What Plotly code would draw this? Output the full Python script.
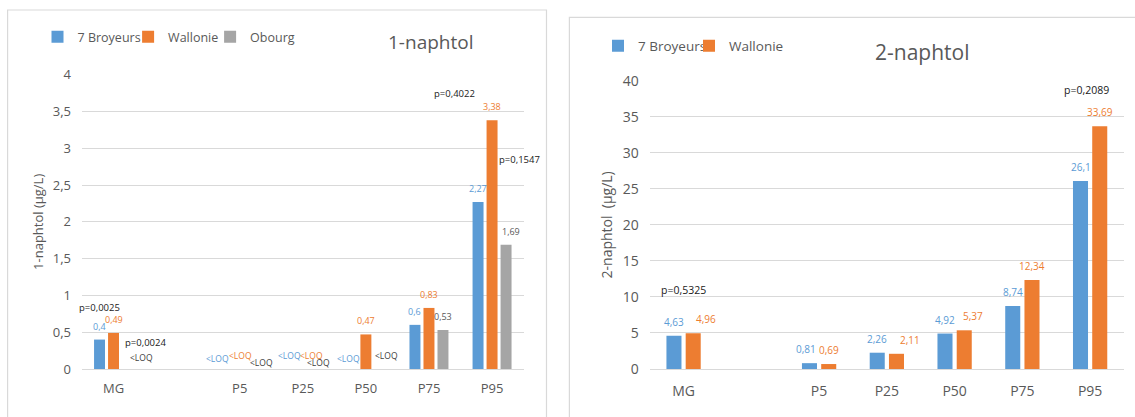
import plotly.graph_objects as go

# ---------------- data ----------------
categories = ["MG", "P5", "P25", "P50", "P75", "P95"]
axis_categories = ["MG", " ", "P5", "P25", "P50", "P75", "P95"]

# 1-naphtol (µg/L) ; None = <LOQ
n1_broyeurs = [0.4, None, None, None, 0.6, 2.27]
n1_wallonie = [0.49, None, None, 0.47, 0.83, 3.38]
n1_obourg = [None, None, None, None, 0.53, 1.69]

# 2-naphtol (µg/L)
n2_broyeurs = [4.63, 0.81, 2.26, 4.92, 8.74, 26.1]
n2_wallonie = [4.96, 0.69, 2.11, 5.37, 12.34, 33.69]

series_names = ["7 Broyeurs", "Wallonie", "Obourg"]

p1_texts = ["p=0,0025", "p=0,0024", "p=0,4022", "p=0,1547"]
p1_cats = ["MG", "MG", "P95", "P95"]
p2_texts = ["p=0,5325", "p=0,2089"]
p2_cats = ["MG", "P95"]

# ---------------- style ----------------
BLUE = "#5B9BD5"
ORANGE = "#ED7D31"
GREY = "#A5A5A5"
DARK = "#595959"
GRID = "#D9D9D9"
FONT = "Open Sans"
W, H = 1135, 417

# label placements (category-unit offsets, value-units y) for p-values and <LOQ
p1_place = [(-0.218, 0.842), (0.50, 0.367), (-0.589, 3.75), (0.433, 2.853)]
p2_place = [(0.0, 10.97), (-0.055, 38.75)]
loq1_place = {
    (2, "MG"): (0.45, 0.163),
    (0, "P5"): (-0.345, 0.149), (1, "P5"): (0.015, 0.177), (2, "P5"): (0.353, 0.095),
    (0, "P25"): (-0.212, 0.177), (1, "P25"): (0.145, 0.177), (2, "P25"): (0.251, 0.095),
    (0, "P50"): (-0.269, 0.149), (2, "P50"): (0.334, 0.177),
}
# pixel nudges of value labels
nudge1 = {(2, "P95"): 5}
nudge2 = {(1, "MG"): 13, (0, "P5"): -3, (1, "P25"): 14, (1, "P50"): 9}

left_w, left_off = 0.174, [-0.222, 0.0, 0.222]
right_w, right_off = 0.222, [-0.142, 0.142]


def fmt(v):
    return f"{v:g}".replace(".", ",")


def cidx(c):
    return axis_categories.index(c)


fig = go.Figure()

left_series = [n1_broyeurs, n1_wallonie, n1_obourg]
left_colors = [BLUE, ORANGE, GREY]
label_colors_left = [BLUE, ORANGE, DARK]
for k, vals in enumerate(left_series):
    fig.add_trace(go.Bar(
        x=categories, y=vals, name=series_names[k],
        marker=dict(color=left_colors[k], line=dict(width=0)),
        width=left_w, offset=left_off[k] - left_w / 2,
        xaxis="x", yaxis="y", legend="legend", legendwidth=[45.6, 37, 60][k],
        hoverinfo="skip",
    ))

right_series = [n2_broyeurs, n2_wallonie]
for k, vals in enumerate(right_series):
    fig.add_trace(go.Bar(
        x=categories, y=vals, name=series_names[k],
        marker=dict(color=left_colors[k], line=dict(width=0)),
        width=right_w, offset=right_off[k] - right_w / 2,
        xaxis="x2", yaxis="y2", legend="legend2", legendwidth=[46, 70][k],
        hoverinfo="skip",
    ))

ann = []
# value labels / <LOQ, left chart
for k, vals in enumerate(left_series):
    for c, v in zip(categories, vals):
        if v is not None:
            ann.append(dict(x=cidx(c) + left_off[k], y=v, xref="x", yref="y",
                            text=fmt(v), showarrow=False, yshift=13.5,
                            xshift=nudge1.get((k, c), 0), yanchor="middle",
                            font=dict(family=FONT, size=9, color=label_colors_left[k])))
        elif (k, c) in loq1_place:
            dx, yy = loq1_place[(k, c)]
            ann.append(dict(x=cidx(c) + dx, y=yy, xref="x", yref="y",
                            text="<LOQ", showarrow=False, yanchor="middle",
                            font=dict(family=FONT, size=8.5,
                                      color=[BLUE, ORANGE, "#404040"][k])))
for t, c, (dx, yy) in zip(p1_texts, p1_cats, p1_place):
    ann.append(dict(x=cidx(c) + dx, y=yy, xref="x", yref="y", text=t, showarrow=False,
                    yanchor="middle",
                    font=dict(family=FONT, size=9.5, color="#1a1a1a")))

# value labels, right chart
for k, vals in enumerate(right_series):
    for c, v in zip(categories, vals):
        ann.append(dict(x=cidx(c) + right_off[k], y=v, xref="x2", yref="y2",
                        text=fmt(v), showarrow=False, yshift=14, yanchor="middle",
                        xshift=nudge2.get((k, c), 0),
                        font=dict(family=FONT, size=10, color=[BLUE, ORANGE][k])))
for t, c, (dx, yy) in zip(p2_texts, p2_cats, p2_place):
    ann.append(dict(x=cidx(c) + dx, y=yy, xref="x2", yref="y2", text=t, showarrow=False,
                    yanchor="middle",
                    font=dict(family=FONT, size=10.5, color="#1a1a1a")))

# chart titles
ann.append(dict(x=430 / W, y=1 - 42 / H, xref="paper", yref="paper", text="1-naphtol",
                showarrow=False, xanchor="center", yanchor="middle",
                font=dict(family=FONT, size=19, color=DARK)))
ann.append(dict(x=922 / W, y=1 - 52 / H, xref="paper", yref="paper", text="2-naphtol",
                showarrow=False, xanchor="center", yanchor="middle",
                font=dict(family=FONT, size=21, color=DARK)))

shapes = [
    dict(type="rect", xref="paper", yref="paper", x0=7.6 / W, x1=546.5 / W,
         y0=-0.2, y1=1 - 10 / H, line=dict(color=GRID, width=1.2)),
    dict(type="rect", xref="paper", yref="paper", x0=569.4 / W, x1=1.2,
         y0=-0.2, y1=1 - 17.3 / H, line=dict(color=GRID, width=1.2)),
]

xcommon = dict(type="category", categoryorder="array", categoryarray=axis_categories,
               range=[-0.5, 6.5], showgrid=False, zeroline=False, showline=False,
               ticks="", fixedrange=True, automargin=False)
ycommon = dict(showgrid=True, gridcolor=GRID, gridwidth=1, zeroline=True,
               zerolinecolor=GRID, zerolinewidth=1, showline=False, ticks="",
               automargin=False)

fig.update_layout(
    width=W, height=H, margin=dict(l=0, r=0, t=0, b=0, pad=0, autoexpand=False),
    paper_bgcolor="white", plot_bgcolor="white",
    separators=", ", barmode="overlay", showlegend=True,
    font=dict(family=FONT, color=DARK),
    xaxis=dict(domain=[82 / W, 523.6 / W], anchor="y",
               tickfont=dict(family=FONT, size=13, color=DARK),
               ticklabelstandoff=10, **xcommon),
    yaxis=dict(domain=[48 / H, 1 - 74.7 / H], anchor="x", range=[0, 4], dtick=0.5,
               tickfont=dict(family=FONT, size=13, color=DARK), ticklabelstandoff=10,
               title=dict(text="1-naphtol (µg/L)", standoff=6,
                          font=dict(family=FONT, size=13, color=DARK)),
               **ycommon),
    xaxis2=dict(domain=[649.7 / W, 1124 / W], anchor="y2",
                tickfont=dict(family=FONT, size=14, color=DARK),
                ticklabelstandoff=12, **xcommon),
    yaxis2=dict(domain=[48 / H, 1 - 80.7 / H], anchor="x2", range=[0, 40], dtick=5,
                tickfont=dict(family=FONT, size=14, color=DARK), ticklabelstandoff=10,
                title=dict(text="2-naphtol  (µg/L)", standoff=6,
                           font=dict(family=FONT, size=14, color=DARK)),
                **ycommon),
    legend=dict(orientation="h", x=37.5 / W, y=1 - 37 / H, xanchor="left", yanchor="middle",
                font=dict(family=FONT, size=12.5, color=DARK), bgcolor="rgba(0,0,0,0)",
                itemclick=False, itemdoubleclick=False),
    legend2=dict(orientation="h", x=598 / W, y=1 - 46 / H, xanchor="left", yanchor="middle",
                 font=dict(family=FONT, size=13.5, color=DARK), bgcolor="rgba(0,0,0,0)",
                 itemclick=False, itemdoubleclick=False),
    annotations=ann, shapes=shapes,
)

fig.write_html("out.html", config={"displayModeBar": False},
               post_script="document.body.style.margin='0';"
                           "document.body.style.overflow='hidden';")
